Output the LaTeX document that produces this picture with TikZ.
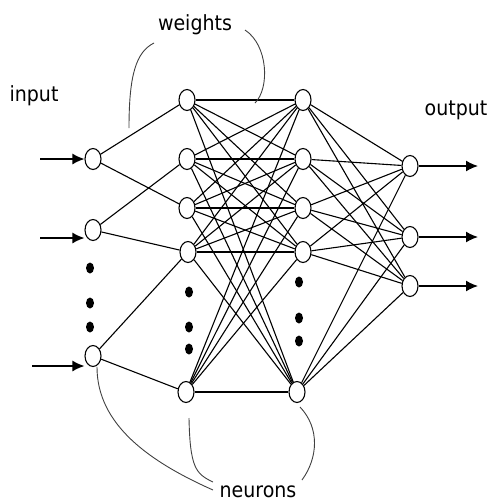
\documentclass[tikz,border=0pt]{standalone}
\usepackage{fontspec}
\setmainfont{DejaVu Sans}
\usetikzlibrary{shapes.geometric,arrows.meta}
\begin{document}
\begin{tikzpicture}[x=1pt,y=-1pt,
  neuron/.style={draw=black,line width=1.1pt,ellipse,fill=white,minimum width=16pt,minimum height=21pt,inner sep=0pt},
  dotmark/.style={fill=black,ellipse,minimum width=8pt,minimum height=11pt,inner sep=0pt},
  link/.style={line width=1.1pt,black},
  arr/.style={line width=1.4pt,-{Latex[length=12pt,width=11pt]}},
  brace/.style={line width=0.9pt,black!75},
  lbl/.style={font=\fontsize{19}{22}\selectfont,anchor=base,inner sep=0pt,yscale=1.1}]
\useasboundingbox (0,0) rectangle (489,501);
% input layer
\node[neuron] (i1) at (93,159) {};
\node[neuron] (i2) at (93,230) {};
\node[neuron] (i3) at (93,356) {};
\node[dotmark] (id1) at (90,268) {};
\node[dotmark] (id2) at (90,303) {};
\node[dotmark] (id3) at (90,327) {};
% hidden layer 1
\node[neuron] (a1) at (187,100) {};
\node[neuron] (a2) at (187,159) {};
\node[neuron] (a3) at (187,208) {};
\node[neuron] (a4) at (188,252) {};
\node[neuron] (a5) at (186,392) {};
\node[dotmark] (ad1) at (189,292) {};
\node[dotmark] (ad2) at (189,327) {};
\node[dotmark] (ad3) at (189,349) {};
% hidden layer 2
\node[neuron] (b1) at (303,100) {};
\node[neuron] (b2) at (303,159) {};
\node[neuron] (b3) at (303,208) {};
\node[neuron] (b4) at (303,252) {};
\node[neuron] (b5) at (297,392) {};
\node[dotmark] (bd1) at (299,282) {};
\node[dotmark] (bd2) at (299,318) {};
\node[dotmark] (bd3) at (299,341) {};
% output layer
\node[neuron] (o1) at (410,166) {};
\node[neuron] (o2) at (410,237) {};
\node[neuron] (o3) at (410,286) {};
% connections
\draw[link] (i1) -- (a1);
\draw[link] (i1) -- (a3);
\draw[link] (i2) -- (a2);
\draw[link] (i2) -- (a4);
\draw[link] (i3) -- (a4);
\draw[link] (i3) -- (a5);
\foreach \u in {1,...,5}{
  \foreach \v in {1,...,5}{
    \draw[link] (a\u) -- (b\v);
  }
}
\foreach \u in {1,...,5}{
  \foreach \v in {1,2,3}{
    \draw[link] (b\u) -- (o\v);
  }
}
% input arrows
\coordinate (s1) at (40,159);
\coordinate (s2) at (40,238);
\coordinate (s3) at (32,366);
\draw[arr] (s1) -- (i1);
\draw[arr] (s2) -- (s2 -| i2.west);
\draw[arr] (s3) -- (s3 -| i3.west);
% output arrows
\coordinate (e1) at (478,166);
\coordinate (e2) at (478,237);
\coordinate (e3) at (478,286);
\draw[arr] (o1) -- (e1);
\draw[arr] (o2) -- (e2);
\draw[arr] (o3) -- (e3);
% labels
\node[lbl] (tin) at (34,101) {input};
\node[lbl] (tw) at (195,30) {weights};
\node[lbl] (tout) at (456,115) {output};
\node[lbl] (tn) at (258,497) {neurons};
% annotation curves
\coordinate (w1a) at (154,43);
\coordinate (w1b) at (129,128);
\coordinate (w2a) at (245,30);
\coordinate (w2b) at (255,103);
\draw[brace] (w1a) .. controls (136,52) and (129,75) .. (w1b);
\draw[brace] (w2a) .. controls (268,45) and (270,88) .. (w2b);
\coordinate (n1a) at (97,367);
\coordinate (n1b) at (213,490);
\coordinate (n2a) at (189,418);
\coordinate (n2b) at (213,482);
\coordinate (n3a) at (300,407);
\coordinate (n3b) at (302,480);
\draw[brace] (n1a) .. controls (97,425) and (150,462) .. (n1b);
\draw[brace] (n2a) .. controls (190,468) and (196,474) .. (n2b);
\draw[brace] (n3a) .. controls (320,428) and (318,458) .. (n3b);
\end{tikzpicture}
\end{document}
